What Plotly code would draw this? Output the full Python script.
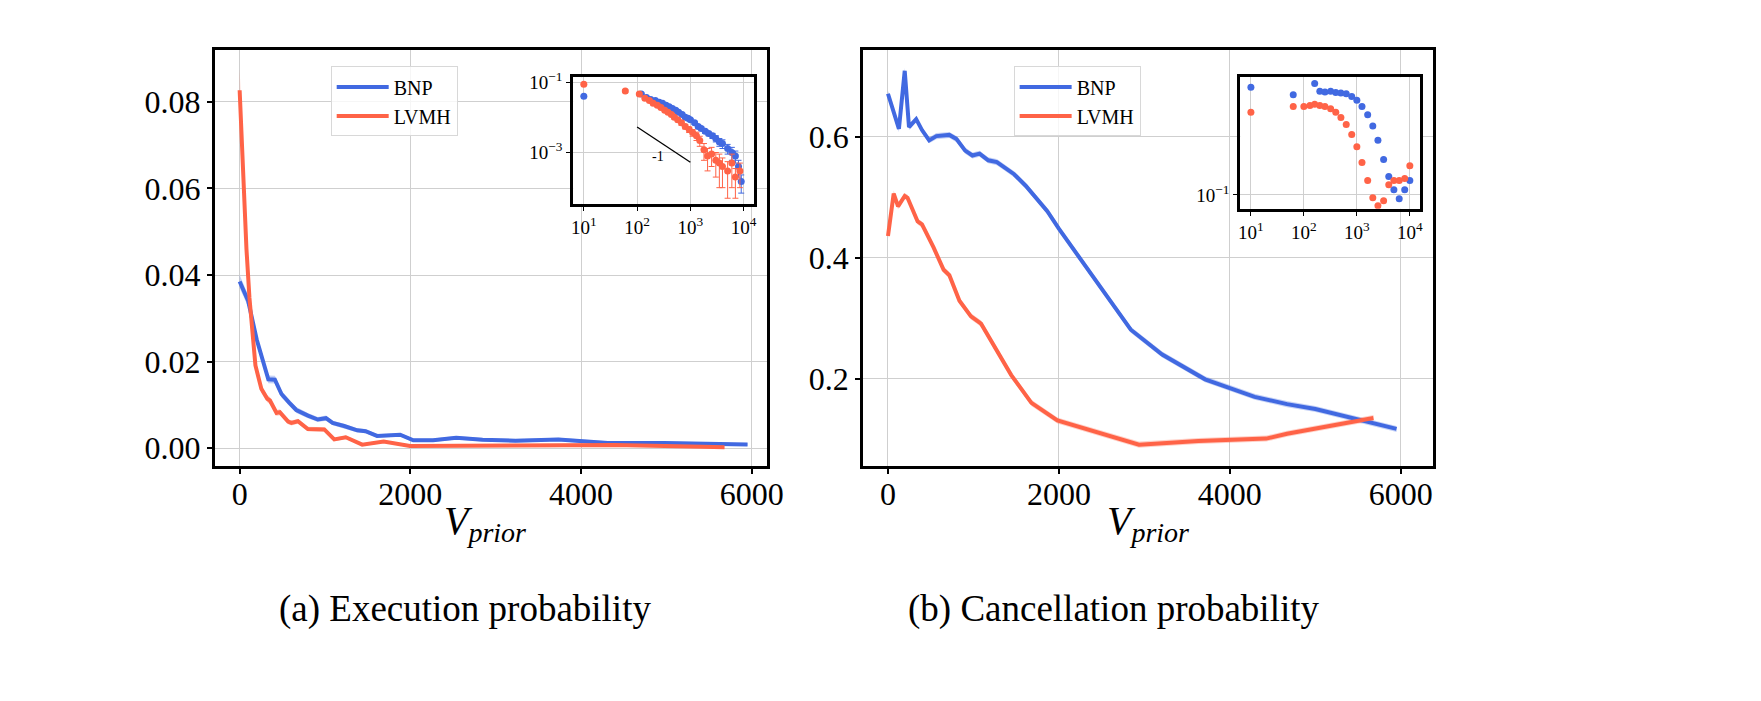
import plotly.graph_objects as go

# ---- main panels: execution probability vs V_prior
bnp_exec_v = [0, 100, 200, 336, 413, 490, 580, 664, 800, 915, 1012, 1089, 1224, 1378, 1475,
              1610, 1880, 2035, 2266, 2537, 2846, 3232, 3734, 4004, 4313, 4969, 5425, 5950]
bnp_exec_p = [0.0385, 0.034, 0.0251, 0.0159, 0.0158, 0.0125, 0.0105, 0.0088, 0.0075, 0.0066,
              0.0069, 0.0058, 0.0051, 0.0041, 0.0039, 0.0028, 0.0031, 0.0018, 0.0018, 0.0024,
              0.0019, 0.0017, 0.0020, 0.0016, 0.0012, 0.0012, 0.0010, 0.0008]
bnp_exec_err = [0.0015, 0.0014, 0.0012, 0.0009, 0.0009, 0.0008, 0.0007, 0.0007, 0.0006, 0.0006,
                0.0006, 0.0005, 0.0005, 0.0005, 0.0005, 0.0004, 0.0004, 0.0004, 0.0004, 0.0004,
                0.0004, 0.0004, 0.0004, 0.0004, 0.0004, 0.0004, 0.0003, 0.0003]

lvmh_exec_v = [0, 45, 80, 115, 150, 185, 254, 324, 355, 432, 471, 568, 606, 683, 799, 992,
               1108, 1243, 1436, 1687, 1996, 2846, 3618, 4390, 5425, 5680]
lvmh_exec_p = [0.0827, 0.060, 0.046, 0.0347, 0.0259, 0.0191, 0.0137, 0.0114, 0.0110, 0.0081,
               0.0083, 0.0061, 0.0058, 0.0062, 0.0044, 0.0043, 0.0020, 0.0025, 0.0008, 0.0015,
               0.0005, 0.0005, 0.0005, 0.0007, 0.0003, 0.0002]
lvmh_exec_err = [0.0050, 0.0030, 0.0020, 0.0015, 0.0012, 0.0010, 0.0009, 0.0008, 0.0008, 0.0007,
                 0.0007, 0.0006, 0.0006, 0.0006, 0.0005, 0.0005, 0.0004, 0.0004, 0.0003, 0.0003,
                 0.0003, 0.0003, 0.0003, 0.0003, 0.0003, 0.0003]

# ---- main panels: cancellation probability vs V_prior
bnp_canc_v = [0, 128, 196, 246, 330, 398, 482, 566, 718, 802, 903, 988, 1072, 1173, 1274, 1476,
              1611, 1864, 1999, 2841, 3208, 3710, 4290, 4669, 5000, 5950]
bnp_canc_p = [0.671, 0.613, 0.709, 0.616, 0.629, 0.611, 0.594, 0.601, 0.603, 0.596, 0.577, 0.569,
              0.572, 0.561, 0.558, 0.538, 0.519, 0.477, 0.448, 0.281, 0.240, 0.199, 0.170, 0.158,
              0.150, 0.117]
lvmh_canc_v = [0, 67, 118, 196, 229, 297, 347, 398, 533, 651, 718, 836, 971, 1089, 1274, 1442,
               1678, 1982, 2937, 3632, 4425, 4669, 5680]
lvmh_canc_p = [0.436, 0.506, 0.485, 0.502, 0.499, 0.475, 0.460, 0.455, 0.417, 0.380, 0.371, 0.329,
               0.303, 0.291, 0.247, 0.206, 0.160, 0.131, 0.091, 0.097, 0.101, 0.109, 0.135]
canc_err = 0.005

# ---- insets (log-log)
ins_exec_bnp_v = [10, 120, 150, 180, 220, 260, 300, 350, 400, 460, 530, 600, 700, 800, 900, 1000,
                  1200, 1400, 1600, 1900, 2200, 2600, 3000, 3500, 4000, 5000, 6000, 7000, 8000, 9000]
ins_exec_bnp_p = [0.040, 0.046, 0.037, 0.032, 0.030, 0.027, 0.025, 0.022, 0.020, 0.018, 0.016,
                  0.014, 0.012, 0.010, 0.0095, 0.0085, 0.0070, 0.0055, 0.0048, 0.0040, 0.0035,
                  0.0030, 0.0025, 0.0020, 0.0018, 0.0013, 0.0010, 0.0008, 0.0004, 0.00015]
ins_exec_bnp_e = [0.001, 0.002, 0.002, 0.002, 0.001, 0.001, 0.001, 0.001, 0.001, 0.001, 0.001,
                  0.001, 0.001, 0.0008, 0.0008, 0.0008, 0.0007, 0.0006, 0.0005, 0.0005, 0.0005,
                  0.0005, 0.0005, 0.0005, 0.0005, 0.0004, 0.0004, 0.0003, 0.0002, 0.00008]
ins_exec_lvmh_v = [10, 60, 110, 140, 170, 200, 240, 280, 330, 380, 440, 500, 580, 680, 800, 950,
                   1100, 1300, 1500, 1800, 2100, 2500, 3000, 3500, 4000, 5000, 6000, 7000, 8500]
ins_exec_lvmh_p = [0.088, 0.056, 0.046, 0.035, 0.030, 0.025, 0.022, 0.019, 0.016, 0.014, 0.012,
                   0.010, 0.0085, 0.0070, 0.0055, 0.0045, 0.0037, 0.0030, 0.0022, 0.0012, 0.0008,
                   0.0009, 0.0006, 0.0005, 0.0004, 0.0003, 0.0005, 0.0002, 0.0003]
ins_exec_lvmh_e = [0.004, 0.004, 0.003, 0.002, 0.002, 0.002, 0.002, 0.001, 0.001, 0.001, 0.001,
                   0.001, 0.001, 0.001, 0.0008, 0.0008, 0.0008, 0.0008, 0.0007, 0.0006, 0.0005,
                   0.0005, 0.0004, 0.0004, 0.0003, 0.00025, 0.0004, 0.00015, 0.0002]
slope_x = [100, 1000]
slope_y = [5.3e-3, 5.3e-4]

ins_canc_bnp_v = [10, 63, 160, 200, 250, 320, 400, 500, 630, 800, 1000, 1250, 1600, 2000, 2500,
                  3200, 4000, 5000, 6300, 8000, 10000]
ins_canc_bnp_p = [0.71, 0.62, 0.76, 0.66, 0.65, 0.66, 0.645, 0.64, 0.63, 0.60, 0.56, 0.50, 0.43,
                  0.35, 0.27, 0.19, 0.14, 0.11, 0.093, 0.11, 0.13]
ins_canc_lvmh_v = [10, 63, 100, 130, 160, 200, 250, 320, 400, 500, 630, 800, 1000, 1250, 1600,
                   2000, 2500, 3200, 4000, 5000, 6300, 8000, 10000]
ins_canc_lvmh_p = [0.45, 0.50, 0.50, 0.51, 0.52, 0.51, 0.50, 0.48, 0.45, 0.41, 0.36, 0.30, 0.24,
                   0.18, 0.13, 0.095, 0.082, 0.09, 0.12, 0.13, 0.13, 0.135, 0.17]

BLUE = "royalblue"
RED = "tomato"
BLUE_BAND = "rgba(65,105,225,0.3)"
RED_BAND = "rgba(255,99,71,0.3)"
FONT = "Liberation Serif"


def band(fig, v, p, err, color, xa, ya):
    upper = [a + e for a, e in zip(p, err)]
    lower = [a - e for a, e in zip(p, err)]
    fig.add_trace(go.Scatter(x=v + v[::-1], y=upper + lower[::-1], fill="toself",
                             fillcolor=color, line=dict(width=0), mode="lines",
                             hoverinfo="skip", showlegend=False, xaxis=xa, yaxis=ya))


fig = go.Figure()

# left main
band(fig, bnp_exec_v, bnp_exec_p, bnp_exec_err, BLUE_BAND, "x", "y")
band(fig, lvmh_exec_v, lvmh_exec_p, lvmh_exec_err, RED_BAND, "x", "y")
fig.add_trace(go.Scatter(x=bnp_exec_v, y=bnp_exec_p, mode="lines", name="BNP",
                         line=dict(color=BLUE, width=4), xaxis="x", yaxis="y", legend="legend"))
fig.add_trace(go.Scatter(x=lvmh_exec_v, y=lvmh_exec_p, mode="lines", name="LVMH",
                         line=dict(color=RED, width=4), xaxis="x", yaxis="y", legend="legend"))

# right main
band(fig, bnp_canc_v, bnp_canc_p, [canc_err] * len(bnp_canc_p), BLUE_BAND, "x2", "y2")
band(fig, lvmh_canc_v, lvmh_canc_p, [canc_err] * len(lvmh_canc_p), RED_BAND, "x2", "y2")
fig.add_trace(go.Scatter(x=bnp_canc_v, y=bnp_canc_p, mode="lines", name="BNP",
                         line=dict(color=BLUE, width=4), xaxis="x2", yaxis="y2", legend="legend2"))
fig.add_trace(go.Scatter(x=lvmh_canc_v, y=lvmh_canc_p, mode="lines", name="LVMH",
                         line=dict(color=RED, width=4), xaxis="x2", yaxis="y2", legend="legend2"))

# left inset
fig.add_trace(go.Scatter(x=ins_exec_bnp_v, y=ins_exec_bnp_p, mode="markers", showlegend=False,
                         marker=dict(color=BLUE, size=7),
                         error_y=dict(type="data", array=ins_exec_bnp_e, color=BLUE, thickness=1, width=3),
                         xaxis="x3", yaxis="y3"))
fig.add_trace(go.Scatter(x=ins_exec_lvmh_v, y=ins_exec_lvmh_p, mode="markers", showlegend=False,
                         marker=dict(color=RED, size=7),
                         error_y=dict(type="data", array=ins_exec_lvmh_e, color=RED, thickness=1, width=3),
                         xaxis="x3", yaxis="y3"))
fig.add_trace(go.Scatter(x=slope_x, y=slope_y, mode="lines", showlegend=False,
                         line=dict(color="black", width=1.3), xaxis="x3", yaxis="y3"))

# right inset
fig.add_trace(go.Scatter(x=ins_canc_bnp_v, y=ins_canc_bnp_p, mode="markers", showlegend=False,
                         marker=dict(color=BLUE, size=7), xaxis="x4", yaxis="y4"))
fig.add_trace(go.Scatter(x=ins_canc_lvmh_v, y=ins_canc_lvmh_p, mode="markers", showlegend=False,
                         marker=dict(color=RED, size=7), xaxis="x4", yaxis="y4"))

W, H = 1761, 701


def dx(a, b):
    return [a / W, b / W]


def dy(top, bottom):
    return [1 - bottom / H, 1 - top / H]


frame = dict(showline=True, mirror=True, linecolor="black", linewidth=3, showgrid=True,
             gridcolor="#cfcfcf", gridwidth=1, zeroline=False, ticks="outside",
             ticklen=5, tickwidth=1.5, tickcolor="black",
             tickfont=dict(family=FONT, size=32, color="black"))
inset = dict(showline=True, mirror=True, linecolor="black", linewidth=3, showgrid=True,
             gridcolor="#cfcfcf", gridwidth=1, zeroline=False, ticks="outside",
             ticklen=4, tickwidth=1, tickcolor="black", type="log",
             tickfont=dict(family=FONT, size=19, color="black"))
log_x_vals = [10, 100, 1000, 10000]
log_x_text = ["10<sup>1</sup>", "10<sup>2</sup>", "10<sup>3</sup>", "10<sup>4</sup>"]
legend_style = dict(yanchor="top", xanchor="left", bgcolor="rgba(255,255,255,0.8)",
                    bordercolor="#d8d8d8", borderwidth=1, itemwidth=52, tracegroupgap=0,
                    font=dict(family=FONT, size=20, color="black"))


def text(t, x, y, size, yanchor="middle"):
    return dict(text=t, x=x / W, y=1 - y / H, xref="paper", yref="paper", showarrow=False,
                xanchor="center", yanchor=yanchor, font=dict(family=FONT, size=size, color="black"))


fig.update_layout(
    width=W, height=H, margin=dict(l=0, r=0, t=0, b=0),
    paper_bgcolor="white", plot_bgcolor="white",
    xaxis=dict(frame, domain=dx(207, 765), range=[-290, 6180], tickvals=[0, 2000, 4000, 6000],
               ticklabelstandoff=-7, anchor="y"),
    yaxis=dict(frame, domain=dy(34, 455), range=[-0.0041, 0.0921],
               tickvals=[0, 0.02, 0.04, 0.06, 0.08], tickformat=".2f", anchor="x"),
    xaxis2=dict(frame, domain=dx(862, 1438), range=[-290, 6380], tickvals=[0, 2000, 4000, 6000],
                ticklabelstandoff=-7, anchor="y2"),
    yaxis2=dict(frame, domain=dy(34, 455), range=[0.056, 0.744], tickvals=[0.2, 0.4, 0.6],
                tickformat=".1f", anchor="x2"),
    xaxis3=dict(inset, domain=dx(569, 752), range=[0.8, 4.2], tickvals=log_x_vals,
                ticktext=log_x_text, anchor="y3"),
    yaxis3=dict(inset, domain=dy(62, 190), range=[-4.46, -0.86], tickvals=[0.1, 0.001],
                ticktext=["10<sup>−1</sup>", "10<sup>−3</sup>"], anchor="x3"),
    xaxis4=dict(inset, domain=dx(1243, 1425), range=[0.8, 4.2], tickvals=log_x_vals,
                ticktext=log_x_text, anchor="y4"),
    yaxis4=dict(inset, domain=dy(62, 195), range=[-1.11, -0.07], tickvals=[0.1],
                ticktext=["10<sup>−1</sup>"], anchor="x4"),
    legend=dict(legend_style, x=324 / W, y=1 - 51 / H),
    legend2=dict(legend_style, x=1014 / W, y=1 - 51 / H),
    annotations=[
        text("<i>V<sub>prior</sub></i>", 480, 486, 40, yanchor="top"),
        text("<i>V<sub>prior</sub></i>", 1150, 486, 40, yanchor="top"),
        text("(a) Execution probability", 460, 600, 37),
        text("(b) Cancellation probability", 1115, 600, 37),
        dict(text="-1", x=2.4, y=-3.1, xref="x3", yref="y3", showarrow=False,
             font=dict(family=FONT, size=14, color="black")),
    ],
)

fig.write_html("out.html")
